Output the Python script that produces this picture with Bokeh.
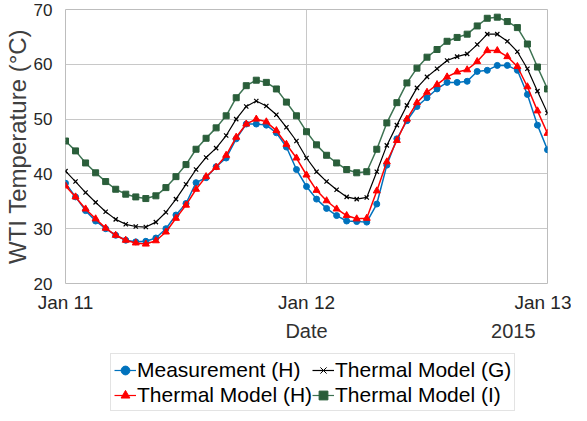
from bokeh.plotting import figure
from bokeh.layouts import column
from bokeh.models import Range1d, FixedTicker, Legend, LegendItem, LinearAxis
from bokeh.embed import file_html
from bokeh.resources import INLINE

# hours since 2015-01-11 00:00
hours = list(range(49))
tick_pos = [0, 24, 48]
tick_labels = ["Jan 11", "Jan 12", "Jan 13"]
y_ticks = [20, 30, 40, 50, 60, 70]
# second row under the date axis: axis name and year
row2_pos = [24, 44.6]
row2_labels = ["Date", "2015"]

measurement_h = [38.3, 35.8, 33.3, 31.4, 30.0, 28.8, 27.9, 27.6, 27.7, 28.3, 30.0, 32.5,
                 34.6, 38.4, 39.3, 41.3, 42.9, 46.4, 49.1, 49.1, 48.9, 47.5, 44.9, 40.8,
                 37.7, 35.4, 33.7, 32.4, 31.4, 31.3, 31.2, 34.5, 41.6, 46.4, 49.7, 52.3,
                 53.9, 55.5, 56.7, 56.7, 56.9, 58.7, 58.9, 59.8, 59.8, 58.9, 54.5, 48.9, 44.4]
thermal_h = [37.8, 35.8, 33.6, 31.8, 30.1, 28.8, 27.9, 27.4, 27.2, 27.8, 29.4, 31.9,
             34.3, 37.2, 39.5, 41.2, 43.4, 46.7, 49.1, 50.0, 49.5, 47.9, 45.4, 42.9,
             39.8, 37.0, 35.1, 33.6, 32.4, 31.8, 31.9, 36.9, 42.2, 46.1, 50.0, 53.0,
             54.9, 56.3, 57.7, 58.6, 59.0, 60.5, 62.5, 62.5, 61.4, 59.6, 55.9, 51.5, 47.4]
thermal_g = [40.5, 38.6, 36.6, 34.8, 33.1, 31.7, 30.8, 30.4, 30.3, 31.2, 33.0, 35.4,
             38.1, 40.8, 43.0, 44.7, 47.0, 50.0, 52.3, 53.3, 52.4, 50.8, 48.5, 46.0,
             42.9, 40.4, 38.6, 37.1, 35.8, 35.4, 35.7, 40.4, 45.2, 48.9, 52.5, 55.7,
             57.7, 59.2, 60.7, 61.4, 61.9, 63.6, 65.5, 65.5, 64.2, 62.3, 59.2, 55.1, 51.1]
thermal_i = [46.0, 44.2, 42.0, 40.2, 38.6, 37.2, 36.3, 35.8, 35.5, 36.0, 37.5, 39.5,
             41.7, 44.5, 46.5, 48.4, 50.6, 53.9, 56.1, 57.1, 56.7, 55.5, 53.1, 50.6,
             47.7, 45.3, 43.4, 42.0, 40.8, 40.2, 40.4, 44.5, 49.3, 53.0, 56.6, 59.3,
             61.3, 62.7, 64.2, 64.9, 65.5, 67.0, 68.4, 68.6, 67.8, 66.7, 63.7, 59.5, 55.5]

series_names = ["Measurement (H)", "Thermal Model (G)", "Thermal Model (H)", "Thermal Model (I)"]

FONT = "Liberation Sans"
TXT = "#262626"

p = figure(width=571, height=344, output_backend="svg", toolbar_location=None,
           x_range=Range1d(0, 48), y_range=Range1d(20, 70),
           min_border_left=55, min_border_right=24, min_border_top=9, min_border_bottom=58)
p.outline_line_color = "#bdbdbd"
p.background_fill_color = "white"
p.border_fill_color = "white"

p.xaxis.ticker = FixedTicker(ticks=tick_pos)
p.xaxis.major_label_overrides = {t: l for t, l in zip(tick_pos, tick_labels)}
p.yaxis.ticker = FixedTicker(ticks=y_ticks)
for ax in (p.xaxis, p.yaxis):
    ax.axis_line_color = None
    ax.major_tick_line_color = None
    ax.minor_tick_line_color = None
    ax.major_label_text_font = FONT
    ax.major_label_text_color = TXT
    ax.axis_label_text_font = FONT
    ax.axis_label_text_font_style = "normal"
    ax.axis_label_text_color = "#404040"
p.xaxis.major_label_text_font_size = "19px"
p.yaxis.major_label_text_font_size = "17px"
p.yaxis.axis_label = "WTI Temperature (°C)"
p.yaxis.axis_label_text_font_size = "24px"
p.xaxis.major_label_standoff = 2
p.yaxis.major_label_standoff = 7
p.yaxis.axis_label_standoff = 0
p.xgrid.grid_line_color = "#c8c8c8"
p.ygrid.grid_line_color = "#c8c8c8"

row2 = LinearAxis(ticker=FixedTicker(ticks=row2_pos),
                  major_label_overrides={t: l for t, l in zip(row2_pos, row2_labels)},
                  axis_line_color=None, major_tick_line_color=None, minor_tick_line_color=None,
                  major_label_text_font=FONT, major_label_text_font_size="20px",
                  major_label_text_color="#303030", major_label_standoff=-2)
p.add_layout(row2, "below")

BLUE = "#0072BD"
RED = "#FF0000"
BLACK = "#000000"
GREEN = "#2A5E3A"
GREEN_L = "#3D7352"

series = [measurement_h, thermal_g, thermal_h, thermal_i]
styles = [
    (BLUE, BLUE, "circle", 6, 1.5),
    (BLACK, BLACK, "x", 6, 1.2),
    (RED, RED, "triangle", 7, 1.5),
    (GREEN_L, GREEN, "square", 6, 1.5),
]
draw_order = [0, 2, 1, 3]
for k in draw_order:
    lc, mc, mk, sz, lw = styles[k]
    p.line(hours, series[k], line_color=lc, line_width=lw)
    p.scatter(hours, series[k], marker=mk, size=sz, fill_color=mc, line_color=mc,
              line_width=1.2 if mk == "x" else 1)

# legend strip under the chart: same series, out of this strip's view, small markers
lg = figure(width=571, height=68, output_backend="svg", toolbar_location=None,
            x_range=Range1d(0, 48), y_range=Range1d(-2, -1), min_border=0)
lg.axis.visible = False
lg.grid.visible = False
lg.outline_line_color = None
items = []
for name, ys, (lc, mc, mk, sz, lw) in zip(series_names, series, styles):
    rl = lg.line(hours, ys, line_color=lc, line_width=1.2)
    rs = lg.scatter(hours, ys, marker=mk, size=4 if mk != "triangle" else 5,
                    fill_color=mc, line_color=mc)
    items.append(LegendItem(label=name, renderers=[rl, rs]))
legend = Legend(items=items, orientation="horizontal", ncols=2, location=(45, 1),
                label_text_font=FONT, label_text_font_size="21px", label_text_color="#000000",
                glyph_width=22, glyph_height=24, label_standoff=1, spacing=0,
                padding=3, margin=0, border_line_color="#c8c8c8",
                label_height=25, background_fill_alpha=1.0)
lg.add_layout(legend, "center")

open("out.html", "w").write(file_html(column(p, lg, spacing=0), INLINE))
